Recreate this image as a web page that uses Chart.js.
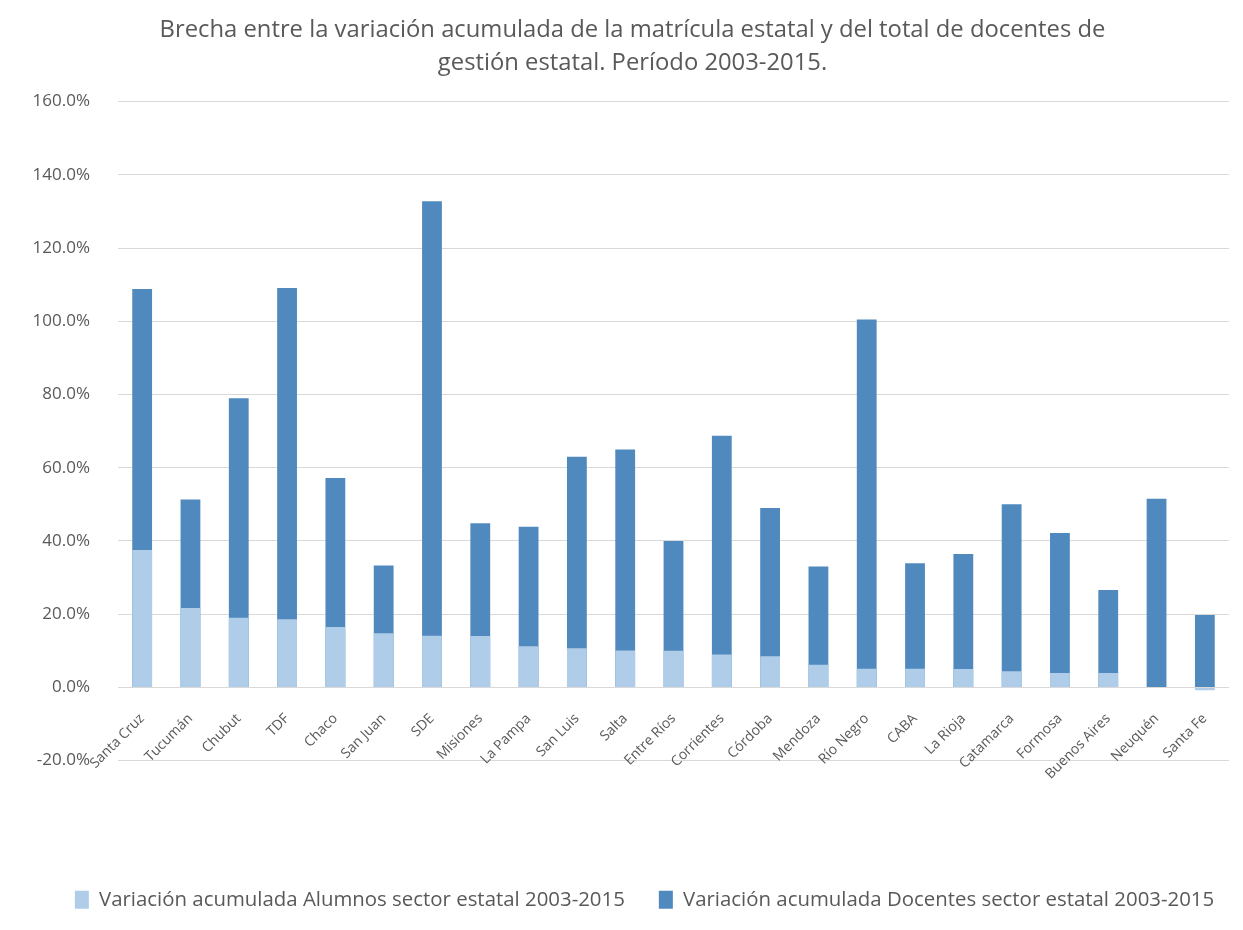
<!DOCTYPE html>
<html>
<head>
<meta charset="utf-8">
<script src="https://cdn.jsdelivr.net/npm/chart.js@4"></script>
<style>
  html, body { margin: 0; padding: 0; background: #fff; }
  #wrap { width: 1243px; height: 930px; }
</style>
</head>
<body>
<div id="wrap"><canvas id="brecha-chart"></canvas></div>
<script>
// provincias, en el orden del gráfico
const provincias = ['Santa Cruz', 'Tucumán', 'Chubut', 'TDF', 'Chaco', 'San Juan', 'SDE', 'Misiones',
    'La Pampa', 'San Luis', 'Salta', 'Entre Ríos', 'Corrientes', 'Córdoba', 'Mendoza', 'Río Negro',
    'CABA', 'La Rioja', 'Catamarca', 'Formosa', 'Buenos Aires', 'Neuquén', 'Santa Fe'];

// variación acumulada 2003-2015 (%)
const alumnos = [37.5, 21.7, 19.0, 18.6, 16.5, 14.8, 14.1, 14.0, 11.2, 10.7, 10.1, 10.0, 9.0, 8.5,
    6.2, 5.1, 5.1, 5.0, 4.4, 3.9, 3.9, -0.2, -0.8];
const docentes = [108.8, 51.3, 79.0, 109.1, 57.2, 33.3, 132.8, 44.8, 43.9, 63.0, 65.0, 40.0, 68.7,
    49.0, 33.0, 100.5, 33.9, 36.4, 50.0, 42.2, 26.6, 51.5, 19.8];

const yMin = -20;
const yMax = 160;
const yStep = 20;

const tituloLineas = ['Brecha entre la variación acumulada de la matrícula estatal y del total de docentes de',
    'gestión estatal. Período 2003-2015.'];
const labelAlumnos = 'Variación acumulada Alumnos sector estatal 2003-2015';
const labelDocentes = 'Variación acumulada Docentes sector estatal 2003-2015';

const gris = '#595959';
const fuente = "'Open Sans', sans-serif";

// corre título y leyenda un poco a la derecha, como en el original
const correrCajas = {
    id: 'correrCajas',
    afterLayout(chart) {
        if (chart.titleBlock) {
            chart.titleBlock.left += 18;
            chart.titleBlock.right += 18;
        }
        if (chart.legend) {
            chart.legend.left += 30;
            chart.legend.right += 30;
        }
    }
};

new Chart(document.getElementById('brecha-chart'), {
    type: 'bar',
    data: {
        labels: provincias,
        datasets: [
            {
                label: labelAlumnos,
                data: alumnos,
                backgroundColor: '#AFCDE9',
                barPercentage: 1,
                categoryPercentage: 0.41
            },
            {
                label: labelDocentes,
                data: docentes,
                backgroundColor: '#4F89BD',
                barPercentage: 1,
                categoryPercentage: 0.41
            }
        ]
    },
    options: {
        responsive: true,
        maintainAspectRatio: false,
        animation: false,
        layout: { padding: { left: 0, right: 14, top: 0, bottom: 10 } },
        scales: {
            x: {
                stacked: true,
                position: { y: 0 },
                grid: { display: false },
                border: { display: false },
                ticks: {
                    color: gris,
                    font: { family: fuente, size: 14 },
                    minRotation: 45,
                    maxRotation: 45,
                    autoSkip: false,
                    padding: 15
                }
            },
            // eje vacío para dejar el espacio entre el área y la leyenda
            xEspacio: {
                type: 'category',
                position: 'bottom',
                grid: { display: false },
                border: { display: false },
                ticks: { display: false },
                afterFit: function(scale) { scale.height = 95; }
            },
            y: {
                stacked: false,
                min: yMin,
                max: yMax,
                grid: { color: '#D9D9D9', drawTicks: false },
                border: { display: false },
                ticks: {
                    stepSize: yStep,
                    color: gris,
                    padding: 28,
                    font: { family: fuente, size: 17 },
                    callback: function(v) { return v.toFixed(1) + '%'; }
                },
                afterFit: function(scale) { scale.width = 118; }
            }
        },
        plugins: {
            title: {
                display: true,
                text: tituloLineas,
                color: gris,
                font: { family: fuente, size: 23.8, weight: 'normal', lineHeight: 1.42 },
                padding: { top: 13, bottom: 21 }
            },
            legend: {
                position: 'bottom',
                labels: {
                    color: gris,
                    font: { family: fuente, size: 20.4 },
                    boxWidth: 14,
                    boxHeight: 18,
                    padding: 34
                }
            },
            tooltip: { enabled: false }
        }
    },
    plugins: [correrCajas]
});
</script>
</body>
</html>
